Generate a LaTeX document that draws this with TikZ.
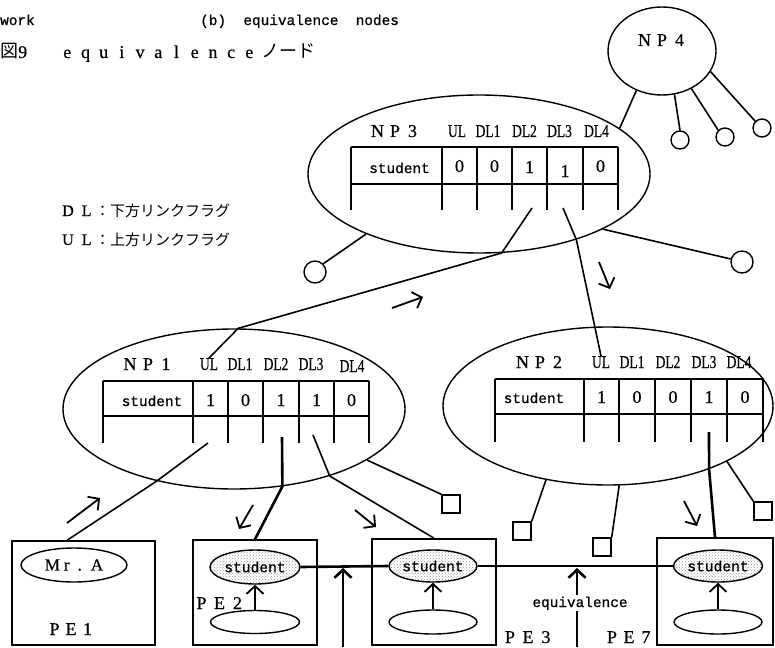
\documentclass[tikz,border=0pt]{standalone}
\usepackage{graphicx}
\usepackage{fontspec}
\setmainfont{Liberation Serif}[FakeBold=0.6]
\setmonofont{Liberation Mono}[FakeBold=0.8]
\newfontfamily\jpfont{Noto Sans CJK JP}
\usetikzlibrary{shapes.geometric,arrows.meta,patterns}
\tikzset{>={Straight Barb[length=8pt,width=17pt]}}
\tikzset{
  npnode/.style={draw, ellipse, line width=1.4pt, inner sep=0pt},
  leafdot/.style={draw, circle, line width=1.4pt, inner sep=0pt},
  leafbox/.style={draw, rectangle, line width=1.4pt, minimum size=18pt, inner sep=0pt},
  pebox/.style={draw, rectangle, line width=1.6pt, inner sep=0pt},
  wordell/.style={draw, ellipse, line width=1.4pt, inner sep=0pt, font=\fontsize{14.6}{16}\ttfamily},
  hitell/.style={wordell, pattern=crosshatch dots, pattern color=gray!80},
  lettered/.style={font=\fontsize{18}{20}\selectfont, anchor=base, inner sep=0pt},
  flagtxt/.style={font=\fontsize{18}{20}\selectfont, anchor=base, inner sep=0pt},
  bittxt/.style={font=\fontsize{18}{20}\selectfont, anchor=base, inner sep=0pt},
  monotxt/.style={font=\fontsize{14.4}{16}\ttfamily, inner sep=0pt},
  tabline/.style={line width=1.6pt},
  linkline/.style={line width=1.6pt},
  boldline/.style={line width=2.6pt},
  flowarrow/.style={->, line width=1.8pt},
  boldflow/.style={->, line width=2.6pt}
}
\newcommand{\spaced}[2]{\foreach \ch in {#2}{\makebox[#1]{\ch}}}
\newcommand{\narrowtext}[1]{\scalebox{0.75}[1]{#1}}

\begin{document}
\begin{tikzpicture}[x=1pt,y=-1pt]
    \useasboundingbox (0,0) rectangle (775,647);
    % captions
    \node[monotxt, anchor=base west] (work) at (0,25) {work};
    \node[monotxt, anchor=base west] (subcap) at (200,25) {(b)\ \ equivalence\ \ nodes};
    \node[anchor=base west, inner sep=0pt, font=\fontsize{18}{20}\selectfont] (figcap) at (0,58)
      {{\jpfont 図}9\hspace{31pt}\spaced{18.2pt}{e,q,u,i,v,a,l,e,n,c,e}\hspace{3pt}{\jpfont ノード}};
    \node[anchor=base west, inner sep=0pt, font=\fontsize{16}{18}\selectfont] (dlkey) at (62,216)
      {D\hspace{8pt}L\hspace{3.7pt}{\jpfont\fontsize{15}{18}\selectfont ：下方リンクフラグ}};
    \node[anchor=base west, inner sep=0pt, font=\fontsize{16}{18}\selectfont] (ulkey) at (62,245)
      {U\hspace{8pt}L\hspace{3.7pt}{\jpfont\fontsize{15}{18}\selectfont ：上方リンクフラグ}};

    % NP nodes
    \node[npnode, minimum width=108pt, minimum height=88pt] (np4) at (662,51) {};
    \node[npnode, minimum width=342pt, minimum height=158pt] (np3) at (479,174) {};
    \node[npnode, minimum width=342pt, minimum height=160pt] (np1) at (234,409) {};
    \node[npnode, minimum width=330pt, minimum height=158pt] (np2) at (608,406) {};
    \node[lettered] (np4lab) at (662,46) {\spaced{17.5pt}{N,P,4}};

    % NP3 table
    \draw[tabline] (351,147) -- (618,147) (351,184) -- (618,184)
      (351,147) -- (351,210) (442,147) -- (442,210) (477,147) -- (477,210)
      (512,147) -- (512,210) (547,147) -- (547,210) (583,147) -- (583,210)
      (618,147) -- (618,210);
    \node[lettered] (np3lab) at (395,137) {\spaced{17.5pt}{N,P,3}};
    \node[flagtxt] (np3ul) at (457,137) {\narrowtext{UL}};
    \node[flagtxt] (np3dl1) at (488,137) {\narrowtext{DL1}};
    \node[flagtxt] (np3dl2) at (524.5,137) {\narrowtext{DL2}};
    \node[flagtxt] (np3dl3) at (559.5,137) {\narrowtext{DL3}};
    \node[flagtxt] (np3dl4) at (596.5,137) {\narrowtext{DL4}};
    \node[monotxt, anchor=base] (np3id) at (399.5,173) {student};
    \node[bittxt] (np3b0) at (459.5,172) {0};
    \node[bittxt] (np3b1) at (494.5,172) {0};
    \node[bittxt] (np3b2) at (529.5,173) {1};
    \node[bittxt] (np3b3) at (565,177) {1};
    \node[bittxt] (np3b4) at (600.5,172) {0};
    \coordinate (np3out2) at (532,208);
    \coordinate (np3out3) at (563,208);

    % NP1 table
    \draw[tabline] (103,381) -- (369,381) (103,416) -- (369,416)
      (103,381) -- (103,443) (193,381) -- (193,443) (228,381) -- (228,443)
      (263,381) -- (263,443) (299,381) -- (299,443) (334,381) -- (334,443)
      (369,381) -- (369,443);
    \node[lettered] (np1lab) at (148,370) {\spaced{18pt}{N,P,1}};
    \node[flagtxt] (np1ul) at (209,370) {\narrowtext{UL}};
    \node[flagtxt] (np1dl1) at (240,370) {\narrowtext{DL1}};
    \node[flagtxt] (np1dl2) at (276,370) {\narrowtext{DL2}};
    \node[flagtxt] (np1dl3) at (311,370) {\narrowtext{DL3}};
    \node[flagtxt] (np1dl4) at (352,372) {\narrowtext{DL4}};
    \node[monotxt, anchor=base] (np1id) at (152,406) {student};
    \node[bittxt] (np1b0) at (210.5,406) {1};
    \node[bittxt] (np1b1) at (245.5,406) {0};
    \node[bittxt] (np1b2) at (281,406) {1};
    \node[bittxt] (np1b3) at (316.5,406) {1};
    \node[bittxt] (np1b4) at (351.5,406) {0};
    \coordinate (np1up) at (208,443);
    \coordinate (np1out2) at (282,437);
    \coordinate (np1out3) at (313,435);

    % NP2 table
    \draw[tabline] (495,379) -- (763,379) (495,414) -- (763,414)
      (495,379) -- (495,442) (584,379) -- (584,442) (619,379) -- (619,442)
      (655,379) -- (655,442) (691,379) -- (691,442) (727,379) -- (727,442)
      (763,379) -- (763,442);
    \node[lettered] (np2lab) at (540,368) {\spaced{17.5pt}{N,P,2}};
    \node[flagtxt] (np2ul) at (601,368) {\narrowtext{UL}};
    \node[flagtxt] (np2dl1) at (632,368) {\narrowtext{DL1}};
    \node[flagtxt] (np2dl2) at (668,368) {\narrowtext{DL2}};
    \node[flagtxt] (np2dl3) at (704,368) {\narrowtext{DL3}};
    \node[flagtxt] (np2dl4) at (739,368) {\narrowtext{DL4}};
    \node[monotxt, anchor=base] (np2id) at (534,403) {student};
    \node[bittxt] (np2b0) at (601.5,403) {1};
    \node[bittxt] (np2b1) at (637,403) {0};
    \node[bittxt] (np2b2) at (673,403) {0};
    \node[bittxt] (np2b3) at (709,403) {1};
    \node[bittxt] (np2b4) at (745,403) {0};
    \coordinate (np2out3) at (709,432);

    % leaves
    \node[leafdot, minimum size=22pt] (la) at (315,272) {};
    \node[leafdot, minimum size=22pt] (lb) at (742,262) {};
    \node[leafdot, minimum size=18pt] (lc) at (680,140) {};
    \node[leafdot, minimum size=18pt] (ld) at (725,137) {};
    \node[leafdot, minimum size=18pt] (le) at (762,128) {};
    \node[leafbox] (sa) at (451,504) {};
    \node[leafbox] (sb) at (522,531) {};
    \node[leafbox] (sc) at (602,547) {};
    \node[leafbox] (sd) at (763,511) {};

    % PE boxes
    \node[pebox, minimum width=143pt, minimum height=104pt] (pe1) at (83.5,593) {};
    \node[pebox, minimum width=124pt, minimum height=105pt] (pe2) at (255,592.5) {};
    \node[pebox, minimum width=124pt, minimum height=106pt] (pe3) at (434,592) {};
    \node[pebox, minimum width=116pt, minimum height=107pt] (pe7) at (715,591.5) {};
    \node[wordell, minimum width=106pt, minimum height=34pt, font=\fontsize{17}{18}\selectfont] (mra) at (74,565)
      {M\hspace{4pt}r\hspace{8pt}.\hspace{9pt}A\hspace{12pt}};
    \node[hitell, minimum width=90pt, minimum height=34pt] (stu2) at (255,567) {student};
    \node[wordell, minimum width=89pt, minimum height=23pt] (low2) at (255,622) {};
    \node[hitell, minimum width=88pt, minimum height=32pt] (stu3) at (433,566) {student};
    \node[wordell, minimum width=88pt, minimum height=24pt] (low3) at (433,622) {};
    \node[hitell, minimum width=89pt, minimum height=32pt] (stu7) at (718,566) {student};
    \node[wordell, minimum width=88pt, minimum height=24pt] (low7) at (718,622) {};
    \node[lettered] (pe1lab) at (71,635) {\spaced{16.5pt}{P,E,1}};
    \node[lettered] (pe2lab) at (219.5,609) {\spaced{18pt}{P,E,2}};
    \node[lettered] (pe3lab) at (528,643) {\spaced{18pt}{P,E,3}};
    \node[lettered] (pe7lab) at (629,643) {\spaced{17pt}{P,E,7}};

    % links
    \draw[linkline] (np3out2) -- (np3.-74) -- (np1.87) -- (np1ul.north);
    \draw[linkline] (np3out3) -- (np3.-34) -- (np2ul.north);
    \draw[linkline] (np3.-152) -- (la.north east);
    \draw[linkline] (np3.-24) -- (lb.165);
    \draw[linkline] (np4.-123) -- (np3.18);
    \draw[linkline] (np4.-74) -- (lc.north);
    \draw[linkline] (np4.-52) -- (ld.north west);
    \draw[linkline] (np4.-23) -- (le.north west);
    \draw[linkline] (np1up) -- (np1.-137) -- ([xshift=56pt]pe1.north west);
    \draw[boldline] (np1out2) -- (np1.-58) -- (pe2.north);
    \draw[linkline] (np1out3) -- (np1.-35) -- (pe3.north);
    \draw[linkline] (np1.-21) -- (sa.north west);
    \draw[linkline] (np2.-130) -- (sb.north east);
    \draw[linkline] (np2.-82) -- (sc.north east);
    \draw[linkline] (np2.-25) -- (sd.north west);
    \draw[boldline] (np2out3) -- (np2.-32) -- (pe7.north);

    % equivalence
    \draw[boldline] (stu2.east) -- (stu3.west);
    \draw[boldline] (stu3.east) -- (stu7.west);
    \draw[flowarrow] (low2) -- (stu2);
    \draw[flowarrow] (low3) -- (stu3);
    \draw[flowarrow] (low7) -- (stu7);
    \coordinate (eqa) at (343,647);
    \coordinate (eqatip) at (343,568);
    \draw[boldflow] (eqa) -- (eqatip);
    \node[monotxt, anchor=base, inner sep=1pt] (eqlab) at (580,607) {equivalence};
    \coordinate (eqb) at (577,647);
    \coordinate (eqbtip) at (577,568);
    \draw[boldline] (eqb) -- (eqb |- eqlab.south);
    \draw[boldflow] (eqb |- eqlab.north) -- (eqbtip);

    % direction marks
    \draw[flowarrow] (392,308) -- (423,297);
    \draw[flowarrow] (599,262) -- (610,289);
    \draw[flowarrow] (67,523) -- (100,498);
    \draw[flowarrow] (253,505) -- (239,529);
    \draw[flowarrow] (355,510) -- (376,527);
    \draw[flowarrow] (684,501) -- (697,526);
  \end{tikzpicture}
\end{document}
